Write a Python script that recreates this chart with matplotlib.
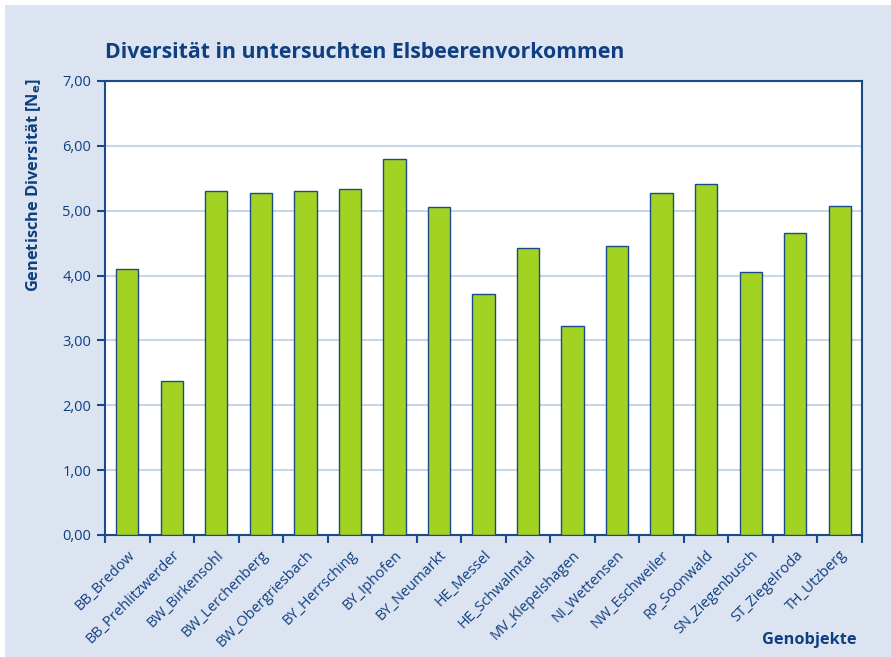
import matplotlib.pyplot as plt
import numpy as np
from matplotlib.patches import Rectangle

# Genetische Diversität je Genobjekt
standorte = ["BB_Bredow", "BB_Prehlitzwerder", "BW_Birkensohl", "BW_Lerchenberg",
             "BW_Obergriesbach", "BY_Herrsching", "BY_Iphofen", "BY_Neumarkt",
             "HE_Messel", "HE_Schwalmtal", "MV_Klepelshagen", "NI_Wettensen",
             "NW_Eschweiler", "RP_Soonwald", "SN_Ziegenbusch", "ST_Ziegelroda",
             "TH_Utzberg"]
diversitaet = [4.10, 2.37, 5.30, 5.27, 5.31, 5.33, 5.80, 5.05, 3.72, 4.43,
               3.22, 4.46, 5.28, 5.41, 4.06, 4.66, 5.07]
y_ticks = [0, 1, 2, 3, 4, 5, 6, 7]

BG = "#dce3f1"
BLUE = "#1a4a8a"
TEXT = "#0f3f80"
GREEN = "#a3d322"
GRID = "#c8d6ea"

plt.rcParams['font.family'] = ['Open Sans', 'DejaVu Sans']

fig = plt.figure(figsize=(8.91, 6.57), dpi=100)
fig.patch.set_facecolor("white")
# hellblauer Hintergrund mit schmalem weißen Rand oben/links
fig.patches.append(Rectangle((5 / 891, 0), 1, 1 - 5 / 657, transform=fig.transFigure,
                             facecolor=BG, edgecolor="none", zorder=-10))

ax = fig.add_axes([105 / 891, 1 - 535 / 657, (862 - 105) / 891, (535 - 81) / 657])
ax.set_facecolor("white")

x = np.arange(len(standorte))
ax.bar(x, diversitaet, width=0.5, color=GREEN, edgecolor=BLUE, linewidth=1.0, zorder=3)

ax.set_xlim(-0.5, len(standorte) - 0.5)
ax.set_ylim(0, 7)
ax.set_yticks(y_ticks)
ax.set_yticklabels([f"{v:.2f}".replace(".", ",") for v in y_ticks])
ax.yaxis.grid(True, color=GRID, linewidth=1.5, zorder=0)
ax.set_axisbelow(True)

# Ticks zwischen den Kategorien, Beschriftungen mittig
ax.set_xticks(np.arange(len(standorte) + 1) - 0.5)
ax.set_xticklabels([])
ax.set_xticks(x, minor=True)
ax.set_xticklabels(standorte, minor=True, rotation=45, ha="right",
                   rotation_mode="anchor", fontsize=10.5, color=TEXT)
ax.tick_params(axis="x", which="minor", length=0, pad=9)
ax.tick_params(axis="x", which="major", length=6, width=1.5, color=BLUE)
ax.tick_params(axis="y", length=6, width=1.5, color=BLUE, labelcolor=TEXT,
               labelsize=10.5, pad=4)

for side in ["left", "right", "top", "bottom"]:
    ax.spines[side].set_color(BLUE)
    ax.spines[side].set_linewidth(1.5)

fig.text(105 / 891, 1 - 52 / 657, "Diversität in untersuchten Elsbeerenvorkommen",
         fontsize=15.3, fontweight="bold", color=TEXT, va="center", ha="left")
fig.text(34 / 891, 1 - 185 / 657, r"Genetische Diversität [N$_\mathbf{e}$]",
         fontsize=11.8, fontweight="bold", color=TEXT, rotation=90,
         va="center", ha="center")
fig.text(857 / 891, 1 - 640 / 657, "Genobjekte", fontsize=11.8, fontweight="bold",
         color=TEXT, ha="right", va="center")

fig.savefig("out.png", dpi=100, facecolor=fig.get_facecolor())
